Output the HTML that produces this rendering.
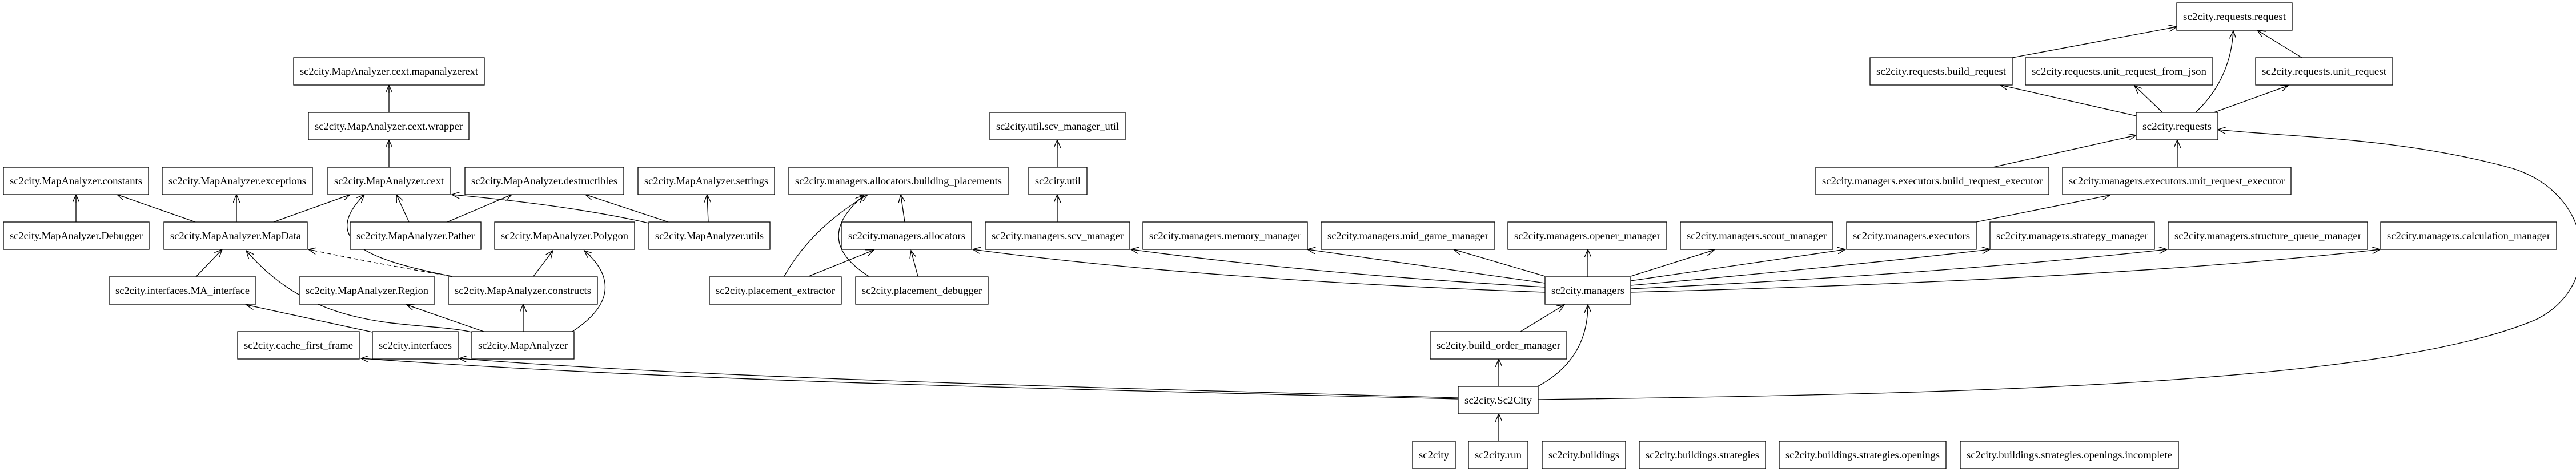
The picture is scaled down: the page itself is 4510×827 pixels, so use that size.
<!DOCTYPE html>
<html><head><meta charset="utf-8"><style>
html,body{margin:0;padding:0;background:#fff;}
svg{display:block}
rect{fill:#fff;stroke:#000;stroke-width:1.3}
text{font-family:"Liberation Serif",serif;font-size:18px;text-anchor:middle;fill:#000}
path{fill:none;stroke:#000;stroke-width:1.3}
</style></head><body>
<svg width="4510" height="827" viewBox="0 0 4510 827" xmlns="http://www.w3.org/2000/svg">
<defs><marker id="a" markerUnits="userSpaceOnUse" markerWidth="16" markerHeight="12" refX="14" refY="6" orient="auto"><path d="M0,0 L14,6 L0,12 M14,6 L0,6" style="stroke:#000;stroke-width:1.3;fill:none"/></marker></defs>
<g marker-end="url(#a)">
<path d="M681,197 L681,149"/>
<path d="M681,293 L681,245"/>
<path d="M133,389 L133,341"/>
<path d="M342,389 L205,341"/>
<path d="M414,389 L414,341"/>
<path d="M479,389 L613,341"/>
<path d="M716,389 L694,341"/>
<path d="M783,389 L896,341"/>
<path d="M1136,391 Q1000,360 791,341"/>
<path d="M1170,389 L1025,341"/>
<path d="M1240,389 L1238,341"/>
<path d="M343,485 L389,437"/>
<path d="M791,484 Q670,464 540,437" style="stroke-dasharray:7,5"/>
<path d="M791,484 C640,455 560,420 638,341"/>
<path d="M934,484 L968,439"/>
<path d="M1002,581 C1080,530 1070,480 1023,439"/>
<path d="M916,581 L916,533"/>
<path d="M847,581 L712,534"/>
<path d="M826,582 C730,560 560,590 431,439"/>
<path d="M652,582 L431,534"/>
<path d="M2553,699 C1800,680 1200,668 632,628"/>
<path d="M2553,697 C1800,676 1200,660 804,628"/>
<path d="M2693,700 C3500,690 4180,670 4440,560 C4560,500 4540,340 4399,295 C4200,240 4000,240 3883,227"/>
<path d="M2624,677 L2624,629"/>
<path d="M2692,677 Q2780,630 2780,534"/>
<path d="M2662,581 L2739,534"/>
<path d="M2624,773 L2624,725"/>
<path d="M2705,484 L2545,437"/>
<path d="M2705,496 L2289,437"/>
<path d="M2705,503 Q2300,480 1980,437"/>
<path d="M2705,512 Q2100,490 1703,437"/>
<path d="M2780,485 L2780,437"/>
<path d="M2855,484 L3001,438"/>
<path d="M2855,492 L3231,437"/>
<path d="M2855,500 Q3200,470 3484,437"/>
<path d="M2855,506 Q3400,480 3794,437"/>
<path d="M2855,512 Q3700,490 4167,437"/>
<path d="M1373,484 Q1420,400 1519,341"/>
<path d="M1416,484 L1530,438"/>
<path d="M1521,484 Q1420,420 1512,343"/>
<path d="M1607,484 L1595,439"/>
<path d="M1584,389 L1577,341"/>
<path d="M1851,389 L1851,341"/>
<path d="M1851,293 L1851,245"/>
<path d="M3740,203 L3502,149"/>
<path d="M3786,197 L3737,150"/>
<path d="M3844,197 Q3905,140 3910,54"/>
<path d="M3876,197 L4006,150"/>
<path d="M3523,101 L3811,47"/>
<path d="M4030,101 L3952,53"/>
<path d="M3489,293 L3740,237"/>
<path d="M3812,293 L3812,245"/>
<path d="M3460,389 L3694,342"/>
</g>
<g>
<rect x="514" y="101" width="334" height="48"/><text x="681" y="131" textLength="312" lengthAdjust="spacingAndGlyphs">sc2city.MapAnalyzer.cext.mapanalyzerext</text>
<rect x="540" y="197" width="281" height="48"/><text x="680.5" y="227" textLength="259" lengthAdjust="spacingAndGlyphs">sc2city.MapAnalyzer.cext.wrapper</text>
<rect x="6" y="293" width="254" height="48"/><text x="133" y="323" textLength="232" lengthAdjust="spacingAndGlyphs">sc2city.MapAnalyzer.constants</text>
<rect x="284" y="293" width="263" height="48"/><text x="415.5" y="323" textLength="241" lengthAdjust="spacingAndGlyphs">sc2city.MapAnalyzer.exceptions</text>
<rect x="574" y="293" width="214" height="48"/><text x="681" y="323" textLength="192" lengthAdjust="spacingAndGlyphs">sc2city.MapAnalyzer.cext</text>
<rect x="814" y="293" width="278" height="48"/><text x="953" y="323" textLength="256" lengthAdjust="spacingAndGlyphs">sc2city.MapAnalyzer.destructibles</text>
<rect x="1117" y="293" width="239" height="48"/><text x="1236.5" y="323" textLength="217" lengthAdjust="spacingAndGlyphs">sc2city.MapAnalyzer.settings</text>
<rect x="6" y="389" width="255" height="48"/><text x="133.5" y="419" textLength="233" lengthAdjust="spacingAndGlyphs">sc2city.MapAnalyzer.Debugger</text>
<rect x="287" y="389" width="251" height="48"/><text x="412.5" y="419" textLength="229" lengthAdjust="spacingAndGlyphs">sc2city.MapAnalyzer.MapData</text>
<rect x="613" y="389" width="229" height="48"/><text x="727.5" y="419" textLength="207" lengthAdjust="spacingAndGlyphs">sc2city.MapAnalyzer.Pather</text>
<rect x="866" y="389" width="245" height="48"/><text x="988.5" y="419" textLength="223" lengthAdjust="spacingAndGlyphs">sc2city.MapAnalyzer.Polygon</text>
<rect x="1136" y="389" width="212" height="48"/><text x="1242" y="419" textLength="190" lengthAdjust="spacingAndGlyphs">sc2city.MapAnalyzer.utils</text>
<rect x="191" y="485" width="257" height="48"/><text x="319.5" y="515" textLength="235" lengthAdjust="spacingAndGlyphs">sc2city.interfaces.MA_interface</text>
<rect x="524" y="485" width="237" height="48"/><text x="642.5" y="515" textLength="215" lengthAdjust="spacingAndGlyphs">sc2city.MapAnalyzer.Region</text>
<rect x="785" y="485" width="261" height="48"/><text x="915.5" y="515" textLength="239" lengthAdjust="spacingAndGlyphs">sc2city.MapAnalyzer.constructs</text>
<rect x="416" y="581" width="213" height="48"/><text x="522.5" y="611" textLength="191" lengthAdjust="spacingAndGlyphs">sc2city.cache_first_frame</text>
<rect x="652" y="581" width="150" height="48"/><text x="727" y="611" textLength="128" lengthAdjust="spacingAndGlyphs">sc2city.interfaces</text>
<rect x="826" y="581" width="179" height="48"/><text x="915.5" y="611" textLength="157" lengthAdjust="spacingAndGlyphs">sc2city.MapAnalyzer</text>
<rect x="1381" y="293" width="384" height="48"/><text x="1573" y="323" textLength="362" lengthAdjust="spacingAndGlyphs">sc2city.managers.allocators.building_placements</text>
<rect x="1801" y="293" width="102" height="48"/><text x="1852" y="323" textLength="80" lengthAdjust="spacingAndGlyphs">sc2city.util</text>
<rect x="1733" y="197" width="237" height="48"/><text x="1851.5" y="227" textLength="215" lengthAdjust="spacingAndGlyphs">sc2city.util.scv_manager_util</text>
<rect x="1474" y="389" width="227" height="48"/><text x="1587.5" y="419" textLength="205" lengthAdjust="spacingAndGlyphs">sc2city.managers.allocators</text>
<rect x="1725" y="389" width="253" height="48"/><text x="1851.5" y="419" textLength="231" lengthAdjust="spacingAndGlyphs">sc2city.managers.scv_manager</text>
<rect x="2001" y="389" width="288" height="48"/><text x="2145" y="419" textLength="266" lengthAdjust="spacingAndGlyphs">sc2city.managers.memory_manager</text>
<rect x="1242" y="485" width="231" height="48"/><text x="1357.5" y="515" textLength="209" lengthAdjust="spacingAndGlyphs">sc2city.placement_extractor</text>
<rect x="1498" y="485" width="232" height="48"/><text x="1614" y="515" textLength="210" lengthAdjust="spacingAndGlyphs">sc2city.placement_debugger</text>
<rect x="2313" y="389" width="304" height="48"/><text x="2465" y="419" textLength="282" lengthAdjust="spacingAndGlyphs">sc2city.managers.mid_game_manager</text>
<rect x="2640" y="389" width="278" height="48"/><text x="2779" y="419" textLength="256" lengthAdjust="spacingAndGlyphs">sc2city.managers.opener_manager</text>
<rect x="2942" y="389" width="267" height="48"/><text x="3075.5" y="419" textLength="245" lengthAdjust="spacingAndGlyphs">sc2city.managers.scout_manager</text>
<rect x="3233" y="389" width="227" height="48"/><text x="3346.5" y="419" textLength="205" lengthAdjust="spacingAndGlyphs">sc2city.managers.executors</text>
<rect x="2705" y="485" width="150" height="48"/><text x="2780" y="515" textLength="128" lengthAdjust="spacingAndGlyphs">sc2city.managers</text>
<rect x="2504" y="581" width="239" height="48"/><text x="2623.5" y="611" textLength="217" lengthAdjust="spacingAndGlyphs">sc2city.build_order_manager</text>
<rect x="2553" y="677" width="140" height="48"/><text x="2623" y="707" textLength="118" lengthAdjust="spacingAndGlyphs">sc2city.Sc2City</text>
<rect x="2473" y="773" width="75" height="48"/><text x="2510.5" y="803" textLength="53" lengthAdjust="spacingAndGlyphs">sc2city</text>
<rect x="2571" y="773" width="104" height="48"/><text x="2623" y="803" textLength="82" lengthAdjust="spacingAndGlyphs">sc2city.run</text>
<rect x="2700" y="773" width="146" height="48"/><text x="2773" y="803" textLength="124" lengthAdjust="spacingAndGlyphs">sc2city.buildings</text>
<rect x="2870" y="773" width="221" height="48"/><text x="2980.5" y="803" textLength="199" lengthAdjust="spacingAndGlyphs">sc2city.buildings.strategies</text>
<rect x="3115" y="773" width="292" height="48"/><text x="3261" y="803" textLength="270" lengthAdjust="spacingAndGlyphs">sc2city.buildings.strategies.openings</text>
<rect x="3432" y="773" width="382" height="48"/><text x="3623" y="803" textLength="360" lengthAdjust="spacingAndGlyphs">sc2city.buildings.strategies.openings.incomplete</text>
<rect x="3274" y="101" width="249" height="48"/><text x="3398.5" y="131" textLength="227" lengthAdjust="spacingAndGlyphs">sc2city.requests.build_request</text>
<rect x="3179" y="293" width="408" height="48"/><text x="3383" y="323" textLength="386" lengthAdjust="spacingAndGlyphs">sc2city.managers.executors.build_request_executor</text>
<rect x="3811" y="5" width="202" height="48"/><text x="3912" y="35" textLength="180" lengthAdjust="spacingAndGlyphs">sc2city.requests.request</text>
<rect x="3546" y="101" width="328" height="48"/><text x="3710" y="131" textLength="306" lengthAdjust="spacingAndGlyphs">sc2city.requests.unit_request_from_json</text>
<rect x="3949" y="101" width="240" height="48"/><text x="4069" y="131" textLength="218" lengthAdjust="spacingAndGlyphs">sc2city.requests.unit_request</text>
<rect x="3740" y="197" width="143" height="48"/><text x="3811.5" y="227" textLength="121" lengthAdjust="spacingAndGlyphs">sc2city.requests</text>
<rect x="3611" y="293" width="400" height="48"/><text x="3811" y="323" textLength="378" lengthAdjust="spacingAndGlyphs">sc2city.managers.executors.unit_request_executor</text>
<rect x="3484" y="389" width="288" height="48"/><text x="3628" y="419" textLength="266" lengthAdjust="spacingAndGlyphs">sc2city.managers.strategy_manager</text>
<rect x="3796" y="389" width="349" height="48"/><text x="3970.5" y="419" textLength="327" lengthAdjust="spacingAndGlyphs">sc2city.managers.structure_queue_manager</text>
<rect x="4168" y="389" width="308" height="48"/><text x="4322" y="419" textLength="286" lengthAdjust="spacingAndGlyphs">sc2city.managers.calculation_manager</text>
</g>
</svg>
</body></html>
